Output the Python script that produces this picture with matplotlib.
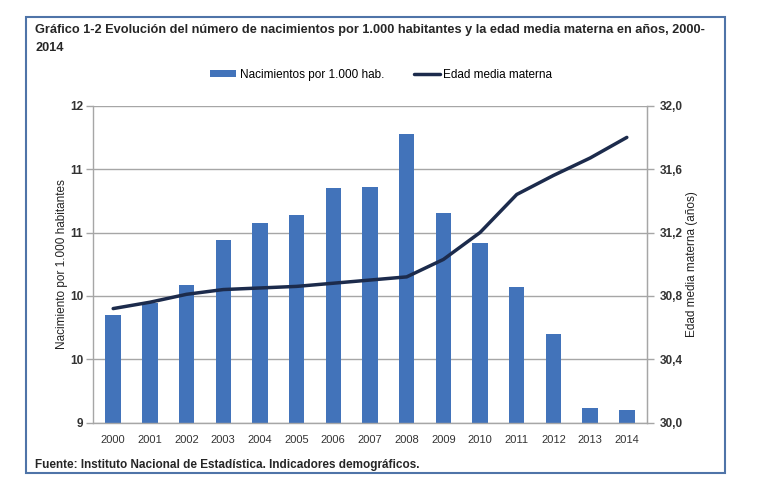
import matplotlib
matplotlib.use("Agg")
import matplotlib.pyplot as plt
from matplotlib.patches import Rectangle
import numpy as np

years = ["2000", "2001", "2002", "2003", "2004", "2005", "2006", "2007",
         "2008", "2009", "2010", "2011", "2012", "2013", "2014"]
nacimientos = [10.02, 10.13, 10.30, 10.73, 10.89, 10.97, 11.22, 11.23,
               11.73, 10.98, 10.70, 10.28, 9.84, 9.14, 9.12]
edad_media = [30.72, 30.76, 30.81, 30.84, 30.85, 30.86, 30.88, 30.90,
              30.92, 31.03, 31.20, 31.44, 31.56, 31.67, 31.80]
left_ticks = [9.0, 9.6, 10.2, 10.8, 11.4, 12.0]
left_labels = ["9", "10", "10", "11", "11", "12"]
right_ticks = [30.0, 30.4, 30.8, 31.2, 31.6, 32.0]
right_labels = ["30,0", "30,4", "30,8", "31,2", "31,6", "32,0"]

plt.rcParams['font.family'] = ['Liberation Sans', 'DejaVu Sans']

fig = plt.figure(figsize=(7.7, 5.04), dpi=100)
fig.patch.set_facecolor("white")

# outer frame
fig.patches.append(Rectangle((26/770, 1-473/504), 699/770, 456/504,
                             transform=fig.transFigure, fill=False,
                             edgecolor="#4f74a8", linewidth=1.5))

ax = fig.add_axes([93/770, 1-422.7/504, (647-93)/770, (422.7-105.7)/504])
x = np.arange(len(years))
bar_color = "#4273ba"
line_color = "#1c2b4c"
grid_color = "#a6a6a6"

bars = ax.bar(x, [v - 9 for v in nacimientos], bottom=9, width=0.42,
              color=bar_color, zorder=2, label="Nacimientos por 1.000 hab.")
ax.set_ylim(9, 12)
ax.set_xlim(-0.55, len(years) - 0.45)
ax.set_yticks(left_ticks)
ax.set_yticklabels(left_labels, fontweight="bold", fontsize=8.5, color="#333333")
ax.set_xticks(x)
ax.set_xticklabels(years, fontsize=8, color="#333333")
ax.tick_params(axis="x", length=0, pad=9)
ax.tick_params(axis="y", length=5, color=grid_color, width=1, pad=2)
ax.yaxis.grid(True, color=grid_color, linewidth=1, zorder=0)
ax.set_axisbelow(True)
ax.spines["top"].set_visible(False)
for s in ["left", "right", "bottom"]:
    ax.spines[s].set_color(grid_color)
    ax.spines[s].set_linewidth(1)
ax.set_ylabel("Nacimiento por 1.000 habitantes", fontsize=8.5, color="#222222")
ax.yaxis.set_label_coords(-0.045, 0.5)

ax2 = ax.twinx()
line, = ax2.plot(x, edad_media, color=line_color, linewidth=2.5,
                 solid_capstyle="round", label="Edad media materna", zorder=3)
ax2.set_ylim(30, 32)
ax2.set_yticks(right_ticks)
ax2.set_yticklabels(right_labels, fontsize=8.5, fontweight="bold", color="#333333")
ax2.tick_params(axis="y", length=5, color=grid_color, width=1, pad=4)
for s in ["top", "left", "bottom"]:
    ax2.spines[s].set_visible(False)
ax2.spines["right"].set_color(grid_color)
ax2.set_ylabel("Edad media materna (años)", fontsize=8.5, color="#222222")
ax2.yaxis.set_label_coords(1.071, 0.5)

fig.text(35/770, 1-30/504, "Gráfico 1-2 Evolución del número de nacimientos por 1.000 habitantes y la edad media materna en años, 2000-",
         fontsize=9.2, fontweight="bold", color="#262626", va="center", ha="left")
fig.text(35/770, 1-48/504, "2014", fontsize=9.2, fontweight="bold",
         color="#262626", va="center", ha="left")

fig.legend(handles=[bars, line], loc="center", bbox_to_anchor=(0.495, 1-75/504),
           ncol=2, frameon=False, fontsize=8.5, handlelength=2.2,
           handleheight=0.5, columnspacing=2.5, handletextpad=0.3)

fig.text(35/770, 1-465/504, "Fuente: Instituto Nacional de Estadística. Indicadores demográficos.",
         fontsize=8.5, fontweight="bold", color="#262626", va="center", ha="left")

fig.savefig("out.png", dpi=100, facecolor="white")
